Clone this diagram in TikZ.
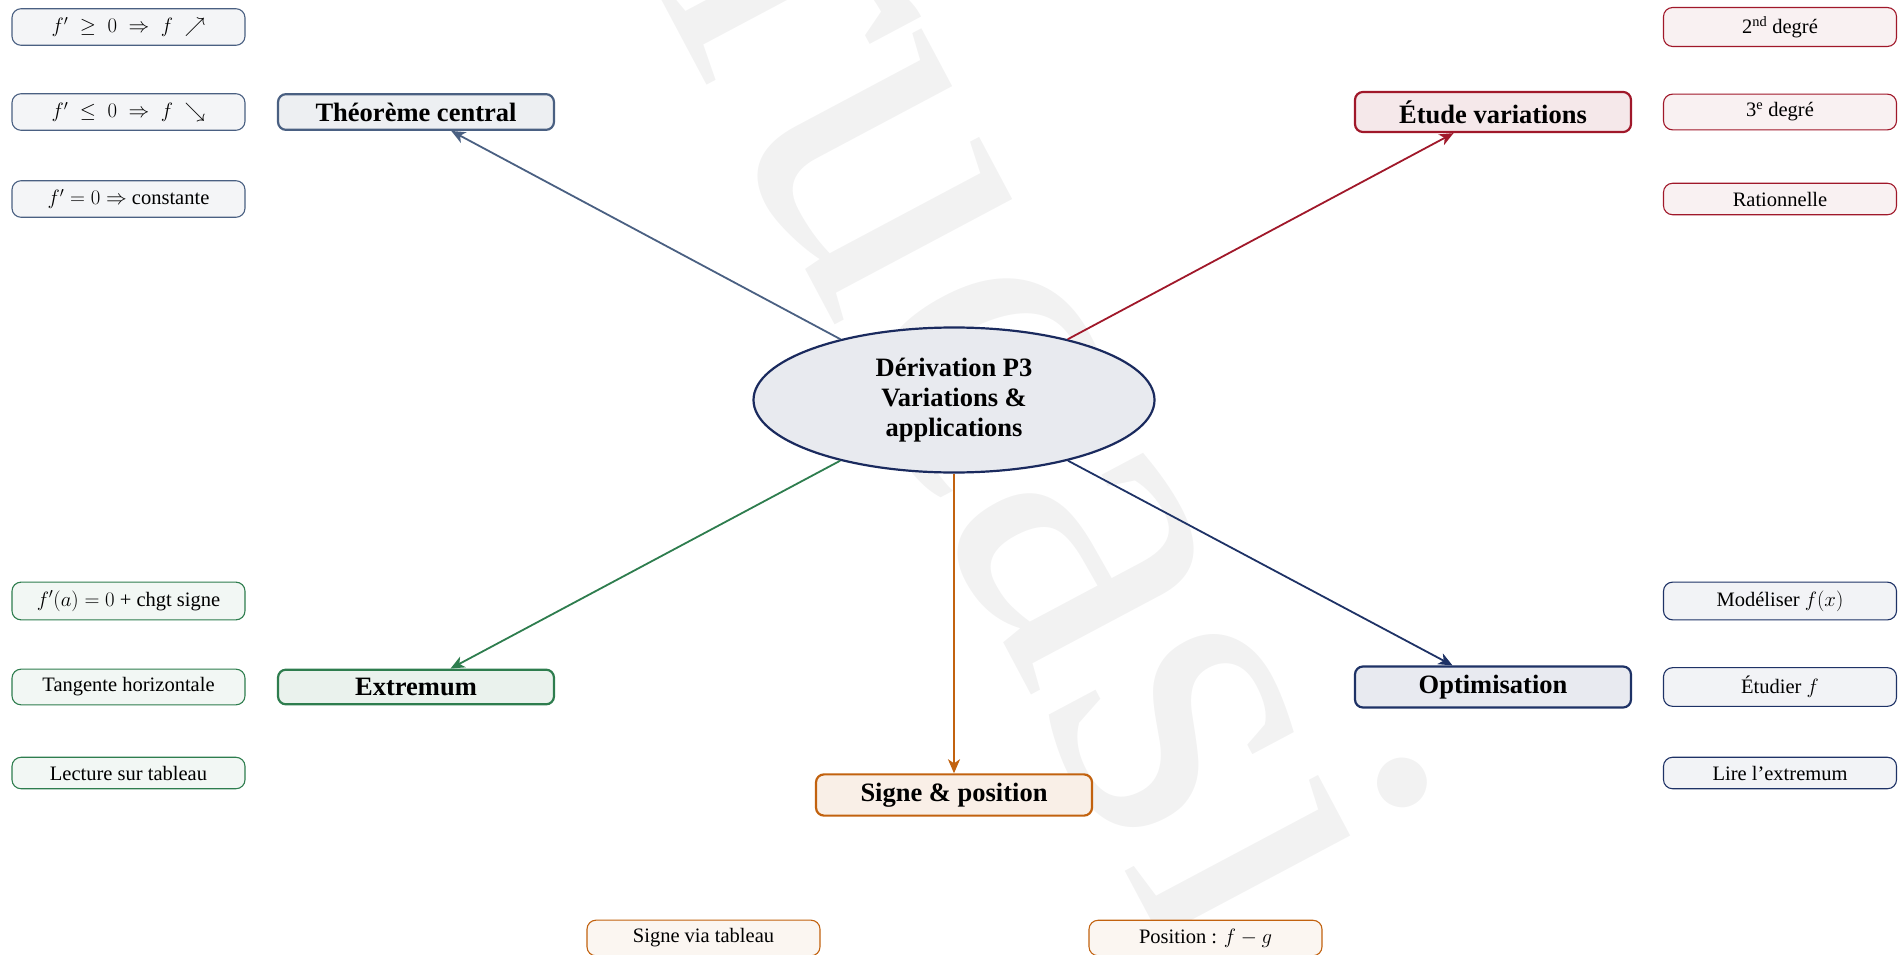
\documentclass[tikz,border=0pt]{standalone}
\usepackage{fontspec}
\setmainfont{Liberation Serif}
\usetikzlibrary{shapes.geometric,arrows.meta}
\definecolor{cTheo}{HTML}{4A6082}
\definecolor{cEtude}{HTML}{A0182A}
\definecolor{cExt}{HTML}{2E7D4E}
\definecolor{cOpt}{HTML}{1E3266}
\definecolor{cSigne}{HTML}{C2620F}
\definecolor{cCenter}{HTML}{1A2A5E}
\definecolor{cWater}{HTML}{F2F2F2}
\tikzset{
  branch/.style={draw=#1, fill=#1!10, rounded corners=8pt, minimum width=276pt,
    inner xsep=6pt, inner ysep=8.5pt, line width=2.2pt,
    font=\bfseries\fontsize{26.5}{30}\selectfont},
  leaf/.style={draw=#1, fill=#1!6, rounded corners=9pt, minimum width=233pt,
    inner xsep=6pt, inner ysep=8.5pt, line width=1.1pt,
    font=\fontsize{20.5}{24}\selectfont},
  link/.style={draw=#1, line width=1.8pt, -{Stealth[length=14pt,width=12pt,inset=4pt]}},
  center/.style={ellipse, draw=cCenter, fill=cCenter!10, line width=2.2pt,
    minimum width=401pt, minimum height=145pt, inner sep=0pt, align=center,
    font=\bfseries\fontsize{26.5}{30}\selectfont},
  watermark/.style={text=cWater, font=\fontsize{470}{470}\selectfont, inner sep=0pt}
}
\begin{document}
\begin{tikzpicture}[x=1pt,y=-1pt]
\useasboundingbox (0,0) rectangle (1901,955);
\node[watermark, rotate=-62, anchor=base] (wm) at (918,482) {rucasi};

\node[center] (c) at (954,400) {Dérivation P3\\Variations \&\\applications};

\node[branch=cTheo] (theo) at (416,112) {Théorème central};
\node[branch=cEtude] (etude) at (1493,112) {Étude variations};
\node[branch=cExt] (ext) at (416,687) {Extremum};
\node[branch=cOpt] (opt) at (1493,687) {Optimisation};
\node[branch=cSigne] (signe) at (954,795) {Signe \& position};

\node[leaf=cTheo] (t1) at (128.5,27) {$f' \;\geq\; 0 \;\Rightarrow\; f \;\nearrow$};
\node[leaf=cTheo] (t2) at (128.5,112) {$f' \;\leq\; 0 \;\Rightarrow\; f \;\searrow$};
\node[leaf=cTheo] (t3) at (128.5,199) {$f' = 0 \Rightarrow$ constante};

\node[leaf=cEtude] (e1) at (1780,27) {2\textsuperscript{nd} degré};
\node[leaf=cEtude] (e2) at (1780,112) {3\textsuperscript{e} degré};
\node[leaf=cEtude] (e3) at (1780,199) {Rationnelle};

\node[leaf=cExt] (x1) at (128.5,601) {$f'(a) = 0$ + chgt signe};
\node[leaf=cExt] (x2) at (128.5,687) {Tangente horizontale};
\node[leaf=cExt] (x3) at (128.5,773) {Lecture sur tableau};

\node[leaf=cOpt] (o1) at (1780,601) {Modéliser $f(x)$};
\node[leaf=cOpt] (o2) at (1780,687) {Étudier $f$};
\node[leaf=cOpt] (o3) at (1780,773) {Lire l’extremum};

\node[leaf=cSigne] (s1) at (703.5,938) {Signe via tableau};
\node[leaf=cSigne] (s2) at (1205.5,938) {Position : $f - g$};

\draw[link=cTheo] (c) -- (theo);
\draw[link=cEtude] (c) -- (etude);
\draw[link=cExt] (c) -- (ext);
\draw[link=cOpt] (c) -- (opt);
\draw[link=cSigne] (c) -- (signe);
\end{tikzpicture}
\end{document}
